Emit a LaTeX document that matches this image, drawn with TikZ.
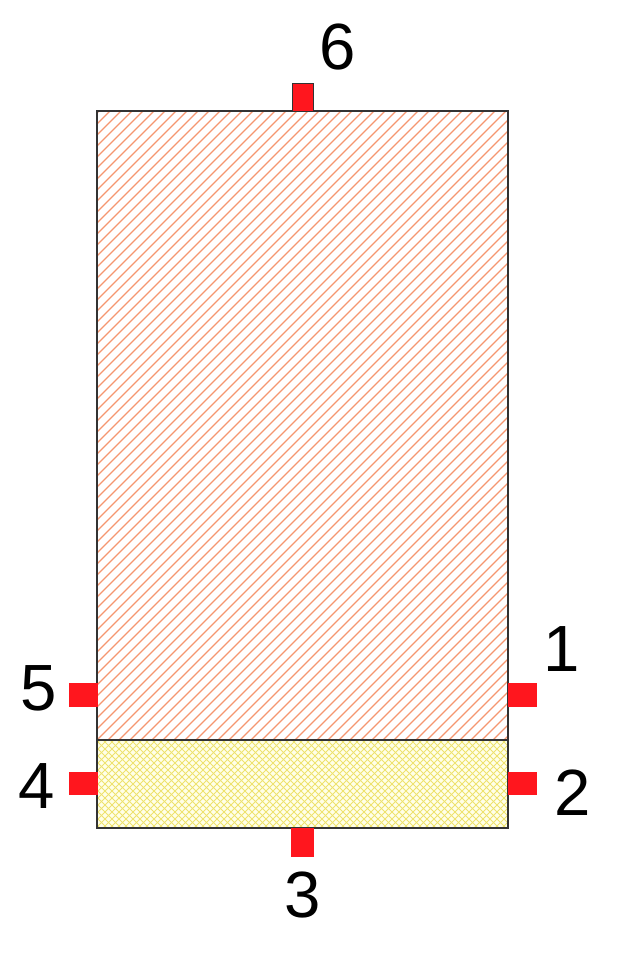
\documentclass[tikz,border=0pt]{standalone}
\usepackage{fontspec}
\setmainfont{Liberation Sans}
\definecolor{hatchorange}{RGB}{245,150,112}
\definecolor{crossyellow}{RGB}{238,226,110}
\definecolor{paleyellow}{RGB}{255,255,232}
\definecolor{portred}{RGB}{255,22,30}

\begin{document}
\begin{tikzpicture}[x=0.75pt,y=-0.75pt]
        \tikzstyle{port}=[rectangle,fill=portred,inner sep=0pt]
        \tikzstyle{port label}=[inner sep=0pt,font=\fontsize{49}{50}\selectfont]
        \tikzstyle{wall}=[draw=black!80,line width=1.1pt]

        \useasboundingbox (0,0) rectangle (623,955);

        % Draw the hatched upper block
        \begin{scope}
            \clip (97,111) rectangle (508,740);
            \foreach \d in {-640,-629,...,520}
                \draw[hatchorange,line width=1pt] (\d,740) -- ++(629,-629);
        \end{scope}

        % Draw the cross-hatched lower strip
        \fill[paleyellow] (97,740) rectangle (508,828);
        \begin{scope}
            \clip (97,740) rectangle (508,828);
            \foreach \d in {-100,-93,...,520}
            {
                \draw[crossyellow,line width=0.6pt] (\d,828) -- ++(88,-88);
                \draw[crossyellow,line width=0.6pt] (\d,740) -- ++(88,88);
            }
        \end{scope}

        % Outline of both parts
        \node[wall,minimum width=411*0.75pt,minimum height=629*0.75pt,inner sep=0pt] (upper) at (302.5,425.5) {};
        \node[wall,minimum width=411*0.75pt,minimum height=88*0.75pt,inner sep=0pt] (lower) at (302.5,784) {};

        % Draw the ports
        \foreach \name / \x / \y / \w / \h in {P-1/522.5/695/29/24, P-2/522.5/783/29/23,
                P-3/302.5/842.5/23/29, P-4/83/783.5/29/23, P-5/83/695/29/24}
            \node[port,minimum width=\w*0.75pt,minimum height=\h*0.75pt] (\name) at (\x,\y) {};
        \node[port,draw=black!80,line width=0.6pt,minimum width=21*0.75pt,minimum height=28*0.75pt] (P-6) at (302.5,97) {};

        % Annotate the ports
        \foreach \name / \x / \y / \txt in {L-1/562/649/1, L-2/573/793/2, L-3/303/894.5/3,
                L-4/37/786/4, L-5/39/688/5, L-6/338/47.5/6}
            \node[port label] (\name) at (\x,\y) {\txt};
\end{tikzpicture}
\end{document}
